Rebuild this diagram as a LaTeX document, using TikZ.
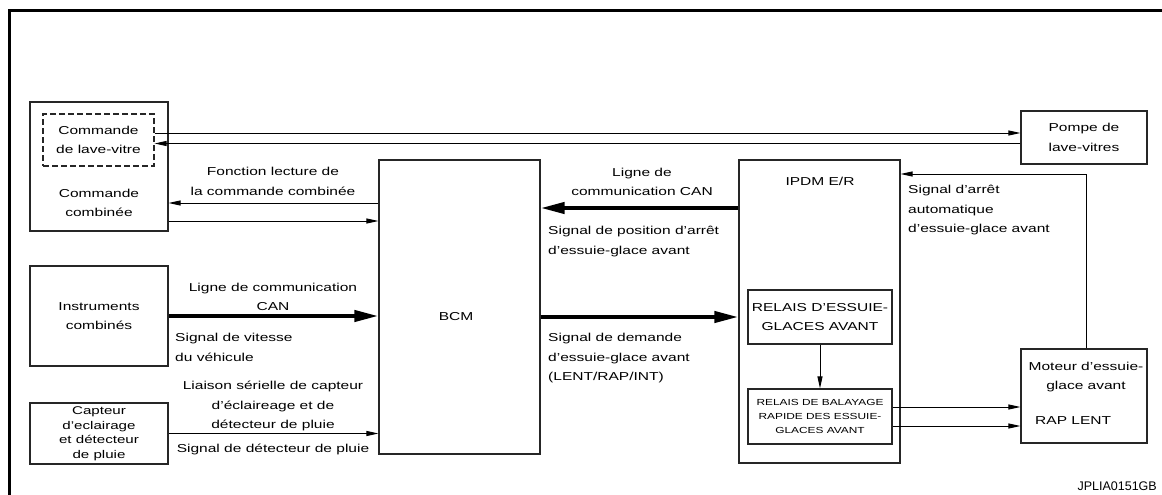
\documentclass[tikz,border=0pt]{standalone}
\usepackage{fontspec}
\setmainfont{Liberation Sans}[FakeStretch=1.35]
\newfontfamily\plainsans{Liberation Sans}
\usetikzlibrary{arrows.meta}

\tikzset{
  blk/.style={draw=black!85, line width=1.1pt, inner sep=0pt, anchor=center,
              font=\fontsize{11.5}{19.5}\selectfont, align=center},
  txt/.style={inner sep=0pt, font=\fontsize{11.5}{19.5}\selectfont, align=center},
  txtl/.style={txt, align=left, anchor=west},
  small/.style={font=\fontsize{8.8}{14}\selectfont},
  tight/.style={font=\fontsize{11.2}{14.5}\selectfont},
  arr/.style={line width=0.9pt, -{Triangle[length=12pt,width=5pt]}},
  bus/.style={line width=4pt, -{Triangle[length=24pt,width=11pt]}},
}

\begin{document}
\begin{tikzpicture}[x=1pt, y=-1pt]
\useasboundingbox (0,0) rectangle (1162,495);

% outer frame (runs off the right and bottom edges)
\draw[line width=3pt] (9,495) -- (9,11) -- (1162,11);

% ---- blocks ----
\node[blk, minimum width=138, minimum height=129] (cc) at (99,166.5) {};
\node[blk, dash pattern=on 6pt off 3pt, minimum width=111, minimum height=52] (ws) at (98.5,140)
     {Commande\\de lave-vitre};
\node[txt] (cclab) at (99,203) {Commande\\combinée};

\node[blk, minimum width=138, minimum height=100] (ic) at (99,316)
     {Instruments\\combinés};
\node[blk, tight, minimum width=138, minimum height=61] (cap) at (99,433.5)
     {Capteur\\d'eclairage\\et détecteur\\de pluie};

\node[blk, minimum width=161, minimum height=294] (bcm) at (459.5,307) {};
\node[txt] (bcmlab) at (456,317) {BCM};

\node[blk, minimum width=161, minimum height=303] (ipdm) at (819.5,311.5) {};
\node[txt] (ipdmlab) at (820,181) {IPDM E/R};
\node[blk, minimum width=144, minimum height=54] (rel1) at (820,317)
     {RELAIS D'ESSUIE-\\GLACES AVANT};
\node[blk, small, minimum width=144, minimum height=55] (rel2) at (820,416.5)
     {RELAIS DE BALAYAGE\\RAPIDE DES ESSUIE-\\GLACES AVANT};

\node[blk, minimum width=126, minimum height=53] (pompe) at (1084,137.5)
     {Pompe de\\lave-vitres};
\node[blk, minimum width=126, minimum height=94] (mot) at (1084,396) {};
\node[txt] (motlab) at (1086,377) {Moteur d'essuie-\\glace avant};
\node[txtl] (raplent) at (1035,421) {RAP LENT};

% ---- connectors ----
\draw[arr] (ws.east |- 0,133) -- (pompe.west |- 0,133);
\draw[arr] (pompe.west |- 0,143.5) -- (ws.east |- 0,143.5);

\draw[arr] (bcm.west |- 0,203) -- (cc.east |- 0,203);
\draw[arr] (cc.east |- 0,221) -- (bcm.west |- 0,221);

\draw[bus] (ic.east) -- (bcm.west |- ic.east);
\draw[arr] (cap.east) -- (bcm.west |- cap.east);

\draw[bus] (ipdm.west |- 0,208) -- (bcm.east |- 0,208);
\draw[bus] (bcm.east |- rel1.west) -- (ipdm.west |- rel1.west);

\draw[arr] (rel1.south) -- (rel2.north);
\draw[arr] (rel2.east |- 0,407) -- (mot.west |- 0,407);
\draw[arr] (rel2.east |- 0,426) -- (mot.west |- 0,426);

\coordinate (up) at (1086,174);
\draw[arr] (mot.north -| up) -- (up) -- (ipdm.east |- up);

% ---- connector labels ----
\node[txt] (l1) at (273,181.5) {Fonction lecture de\\la commande combinée};
\node[txt] (l2) at (273,297) {Ligne de communication\\CAN};
\node[txtl] (l3) at (175,347.5) {Signal de vitesse\\du véhicule};
\node[txt] (l4) at (273,406) {Liaison sérielle de capteur\\d'éclaireage et de\\détecteur de pluie};
\node[txt] (l5) at (273,449) {Signal de détecteur de pluie};
\node[txt] (l6) at (642,182) {Ligne de\\communication CAN};
\node[txtl] (l7) at (548,241.5) {Signal de position d'arrêt\\d'essuie-glace avant};
\node[txtl] (l8) at (548,358.5) {Signal de demande\\d'essuie-glace avant\\(LENT/RAP/INT)};
\node[txtl] (l9) at (908,210.5) {Signal d'arrêt\\automatique\\d'essuie-glace avant};

\node[inner sep=0pt, anchor=east, font=\plainsans\fontsize{12.5}{14}\selectfont] (ref) at (1157,486) {JPLIA0151GB};
\end{tikzpicture}
\end{document}
